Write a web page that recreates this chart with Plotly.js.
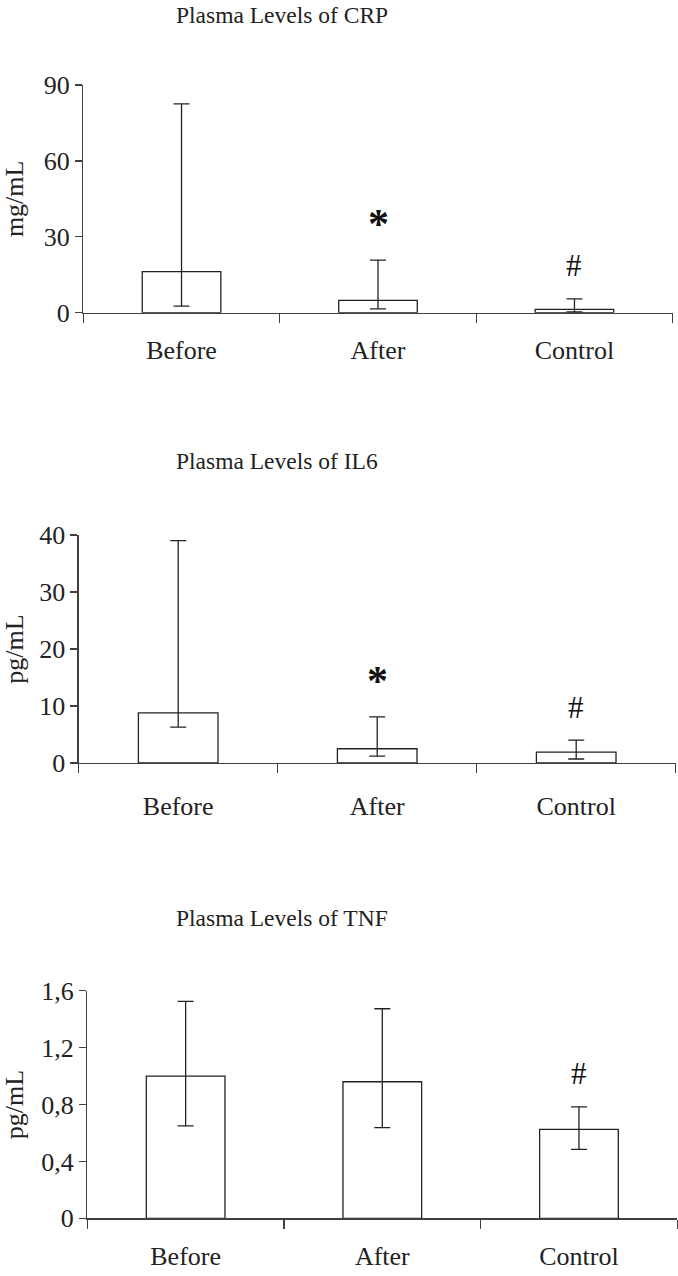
<!DOCTYPE html>
<html>
<head>
<meta charset="utf-8">
<script src="https://cdn.plot.ly/plotly-3.0.1.min.js"></script>
<style>html,body{margin:0;padding:0;background:#fff;}#chart{width:678px;height:1276px;}</style>
</head>
<body>
<div id="chart"></div>
<script>
// ---- data ----
const categories = ['Before', 'After', 'Control'];

const crpMean  = [16.2, 4.9, 1.3];
const crpUpper = [82.5, 20.8, 5.5];
const crpLower = [2.6, 1.5, 0.3];
const crpMarks = ['', '*', '#'];
const crpTickVals = [0, 30, 60, 90];
const crpTickText = ['0', '30', '60', '90'];

const il6Mean  = [8.8, 2.5, 1.9];
const il6Upper = [39.0, 8.1, 4.0];
const il6Lower = [6.3, 1.2, 0.7];
const il6Marks = ['', '*', '#'];
const il6TickVals = [0, 10, 20, 30, 40];
const il6TickText = ['0', '10', '20', '30', '40'];

const tnfMean  = [1.00, 0.96, 0.625];
const tnfUpper = [1.525, 1.473, 0.784];
const tnfLower = [0.65, 0.637, 0.485];
const tnfMarks = ['', '', '#'];
const tnfTickVals = [0, 0.4, 0.8, 1.2, 1.6];
const tnfTickText = ['0', '0,4', '0,8', '1,2', '1,6'];

const panelTitles = ['Plasma Levels of CRP', 'Plasma Levels of IL6', 'Plasma Levels of TNF'];
const unitLabels = ['mg/mL', 'pg/mL', 'pg/mL'];

// ---- styling / layout ----
const W = 678, H = 1276;
const FONT = '"Liberation Serif", "DejaVu Serif", serif';
const INK = '#222';
const AXC = '#404040';
const py = p => 1 - p / H;
const px = p => p / W;

const panels = [
  {mean: crpMean, up: crpUpper, lo: crpLower, marks: crpMarks, tv: crpTickVals, tt: crpTickText, range: [0, 90],
   xd: [83.3, 672.7], yd: [85, 312.7], titleTop: 0, standoff: 14},
  {mean: il6Mean, up: il6Upper, lo: il6Lower, marks: il6Marks, tv: il6TickVals, tt: il6TickText, range: [0, 40],
   xd: [78.7, 675.7], yd: [535, 763], titleTop: 446, standoff: 19},
  {mean: tnfMean, up: tnfUpper, lo: tnfLower, marks: tnfMarks, tv: tnfTickVals, tt: tnfTickText, range: [0, 1.6],
   xd: [87.3, 677.3], yd: [990.7, 1218.3], titleTop: 903, standoff: 14}
];

const traces = [];
const layout = {
  width: W, height: H,
  margin: {l: 0, r: 0, t: 0, b: 0},
  paper_bgcolor: '#fff', plot_bgcolor: '#fff',
  showlegend: false,
  separators: ', ',
  font: {family: FONT, color: INK},
  annotations: []
};

panels.forEach((p, i) => {
  const n = i === 0 ? '' : String(i + 1);
  const xa = 'x' + n, ya = 'y' + n;
  traces.push({
    type: 'bar',
    x: categories,
    y: p.mean,
    xaxis: xa, yaxis: ya,
    width: 0.4,
    marker: {color: '#ffffff', line: {color: INK, width: 1.3}},
    error_y: {
      type: 'data', symmetric: false,
      array: p.mean.map((m, k) => p.up[k] - m),
      arrayminus: p.mean.map((m, k) => m - p.lo[k]),
      color: INK, thickness: 1.3, width: 8
    },
    hoverinfo: 'x+y'
  });
  layout['xaxis' + n] = {
    domain: [px(p.xd[0]), px(p.xd[1])],
    anchor: ya,
    type: 'category',
    range: [-0.5, 2.5],
    showline: true, linecolor: AXC, linewidth: 1.3,
    ticks: 'outside', tickson: 'boundaries', ticklen: 9, tickcolor: AXC, tickwidth: 1.3,
    showgrid: false, zeroline: false,
    tickfont: {family: FONT, size: 26, color: INK},
    ticklabelstandoff: p.standoff,
    fixedrange: true
  };
  layout['yaxis' + n] = {
    domain: [py(p.yd[1]), py(p.yd[0])],
    anchor: xa,
    range: p.range,
    tickvals: p.tv, ticktext: p.tt,
    showline: true, linecolor: AXC, linewidth: 1.3,
    ticks: 'outside', ticklen: 7, tickcolor: AXC, tickwidth: 1.3,
    showgrid: false, zeroline: false,
    tickfont: {family: FONT, size: 26, color: INK},
    title: {text: unitLabels[i], font: {family: FONT, size: 26, color: INK}, standoff: 24},
    fixedrange: true
  };
  layout.annotations.push({
    text: panelTitles[i], xref: 'paper', yref: 'paper',
    x: px(174), y: py(p.titleTop), xanchor: 'left', yanchor: 'top',
    showarrow: false, font: {family: FONT, size: 23.5, color: INK}
  });
  p.marks.forEach((m, k) => {
    if (!m) return;
    const star = m === '*';
    layout.annotations.push({
      text: star ? '<b>*</b>' : '#',
      xref: xa, yref: ya,
      x: categories[k], y: p.up[k],
      xanchor: 'center', yanchor: 'middle',
      yshift: star ? 36 : 33,
      showarrow: false,
      font: {family: FONT, size: star ? 42 : 31, color: '#111'}
    });
  });
});

Plotly.newPlot('chart', traces, layout, {displayModeBar: false, staticPlot: true});
</script>
</body>
</html>
